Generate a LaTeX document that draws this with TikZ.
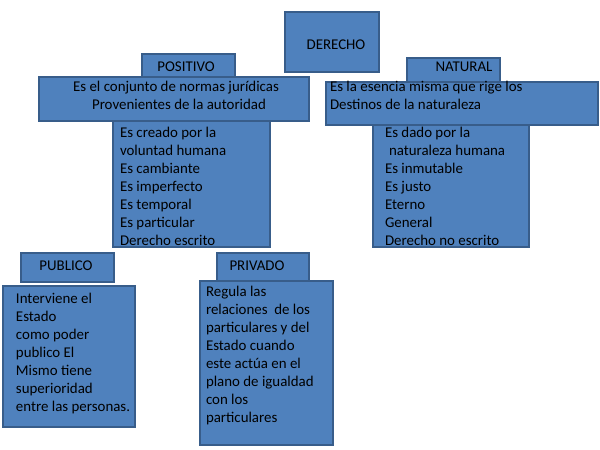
\documentclass[tikz,border=0pt]{standalone}
\usepackage{fontspec}
\setmainfont{Carlito}
\definecolor{boxfill}{HTML}{4F81BD}
\definecolor{boxline}{HTML}{385D8A}
\tikzset{
  box/.style={draw=boxline, fill=boxfill, line width=1.2pt, anchor=north west, inner sep=0pt, outer sep=0pt},
  txt/.style={inner sep=0pt, outer sep=0pt, font=\fontsize{14.9}{18}\selectfont, text=black},
  lst/.style={txt, align=left, anchor=north west},
}
\begin{document}
\begin{tikzpicture}[x=1pt,y=-1pt]
\useasboundingbox (0,0) rectangle (600,450);
% boxes
\node[box, minimum width=94pt, minimum height=60pt] (derecho) at (285,12) {};
\node[box, minimum width=93pt, minimum height=23pt] (positivo) at (142,54) {};
\node[box, minimum width=270pt, minimum height=44pt] (posdesc) at (39,77) {};
\node[box, minimum width=157pt, minimum height=126pt] (poslist) at (113,121) {};
\node[box, minimum width=93pt, minimum height=24pt] (natural) at (407,58) {};
\node[box, minimum width=272pt, minimum height=43pt] (natdesc) at (326,82) {};
\node[box, minimum width=156pt, minimum height=122pt] (natlist) at (373,125) {};
\node[box, minimum width=93pt, minimum height=29pt] (publico) at (21,253) {};
\node[box, minimum width=132pt, minimum height=141pt] (pubdesc) at (3,286) {};
\node[box, minimum width=92pt, minimum height=28pt] (privado) at (217,253) {};
\node[box, minimum width=133pt, minimum height=164pt] (privdesc) at (200,281) {};
% texts
\node[txt] (tderecho) at (336,45) {DERECHO};
\node[txt] (tpositivo) at (186,67) {POSITIVO};
\node[txt, align=center] (tposdesc) at (176,95) {Es el conjunto de normas jurídicas\\\hspace*{6pt}Provenientes de la autoridad};
\node[lst] (tposlist) at (120,127) {Es creado por la\\voluntad humana\\Es cambiante\\Es imperfecto\\Es temporal\\Es particular\\Derecho escrito};
\node[txt] (tnatural) at (464,67) {NATURAL};
\node[lst] (tnatdesc) at (330,81) {Es la esencia misma que rige los\\Destinos de la naturaleza};
\node[lst] (tnatlist) at (385,127) {Es dado por la\\\hspace*{4pt}naturaleza humana\\Es inmutable\\Es justo\\Eterno\\General\\Derecho no escrito};
\node[txt] (tpublico) at (66,266) {PUBLICO};
\node[lst] (tpubdesc) at (16,293) {Interviene el\\Estado\\como poder\\publico El\\Mismo tiene\\superioridad\\entre las personas.};
\node[txt] (tprivado) at (257,266) {PRIVADO};
\node[lst] (tprivdesc) at (206,286) {Regula las\\relaciones\ \ de los\\particulares y del\\Estado cuando\\este actúa en el\\plano de igualdad\\con los\\particulares};
\end{tikzpicture}
\end{document}
